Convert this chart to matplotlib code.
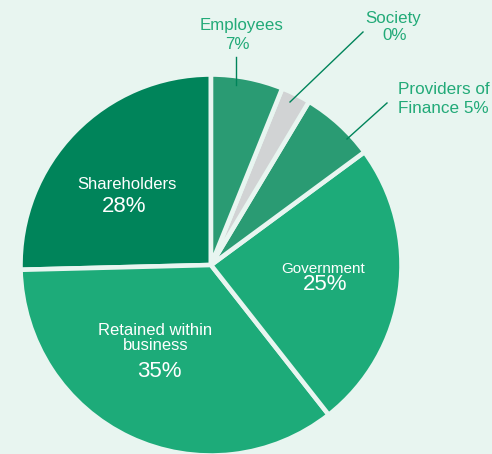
import matplotlib
matplotlib.use("Agg")
import matplotlib.pyplot as plt

# slice shares as drawn, labels as printed
names = ["Shareholders", "Retained within\nbusiness", "Government",
         "Providers of\nFinance", "Society", "Employees"]
shares = [25.4, 35.2, 24.5, 6.3, 2.5, 6.1]
printed = ["28%", "35%", "25%", "5%", "0%", "7%"]
colors = ["#00845a", "#1dab79", "#1dab79", "#2a9b73", "#d1d3d4", "#2a9b73"]
explode = [0.0, 0.0, 0.02, 0.045, 0.015, 0.0]

bg = "#e8f5f0"
text_green = "#22aa78"
line_green = "#00845a"

plt.rcParams['font.family'] = ['Liberation Sans', 'DejaVu Sans']

fig = plt.figure(figsize=(4.92, 4.54), dpi=100, facecolor=bg)
ax = fig.add_axes([0, 0, 1, 1])
ax.set_facecolor(bg)

# pixel-like data space, y up
cx, cy, r = 211, 454 - 265, 190.5
ax.pie(shares, colors=colors, explode=explode, startangle=90,
       counterclock=True, radius=r, center=(cx, cy),
       wedgeprops=dict(edgecolor=bg, linewidth=3.3))
ax.set_xlim(0, 492)
ax.set_ylim(0, 454)
ax.set_aspect("equal")
ax.axis("off")


def py(y):
    return 454 - y


def label(x, y, s, size, color="white", ha="center"):
    ax.text(x, py(y), s, color=color, fontsize=size, ha=ha, va="baseline")


# labels inside slices
label(126.5, 189, names[0], 12)
label(124.5, 212, printed[0], 16)
label(155, 335, names[1].split("\n")[0], 12)
label(155.5, 350, names[1].split("\n")[1], 12)
label(159, 377, printed[1], 16)
label(323.5, 273, names[2], 11)
label(325, 290, printed[2], 16)

# outside labels with leader lines
label(241.5, 30, names[5], 12.2, text_green)
label(237, 49, printed[5], 12.2, text_green)
ax.plot([235.7, 235.7], [py(57), py(85)], color=line_green, lw=1)

label(393, 23.5, names[4], 12.2, text_green)
label(395, 39.5, printed[4], 12.2, text_green)
ax.plot([363, 290], [py(32), py(102)], color=line_green, lw=1)

label(398, 94, names[3].split("\n")[0], 12.3, text_green, ha="left")
label(398, 113, names[3].split("\n")[1] + " " + printed[3], 12.3, text_green, ha="left")
ax.plot([387, 347], [py(103), py(139)], color=line_green, lw=1)

fig.savefig("out.png", dpi=100, facecolor=bg)
